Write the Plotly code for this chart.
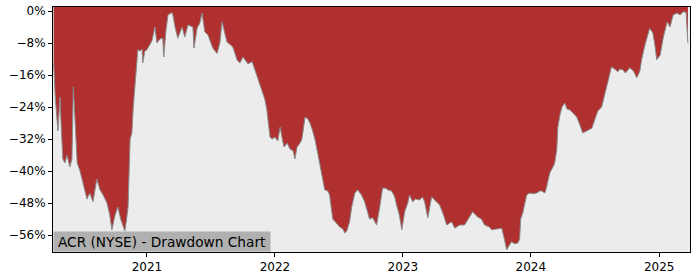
import plotly.graph_objects as go

dates = [
    "2020-04-10", "2020-04-14", "2020-04-22", "2020-04-28", "2020-05-01", "2020-05-06", "2020-05-12",
    "2020-05-18", "2020-05-26", "2020-06-01", "2020-06-05", "2020-06-10", "2020-06-16", "2020-06-24",
    "2020-07-05", "2020-07-14", "2020-07-22", "2020-07-31", "2020-08-11", "2020-08-20", "2020-08-29",
    "2020-09-09", "2020-09-17", "2020-09-23", "2020-10-02", "2020-10-10", "2020-10-18", "2020-10-30",
    "2020-11-04", "2020-11-08", "2020-11-14", "2020-11-19", "2020-11-23", "2020-11-28", "2020-12-02",
    "2020-12-06", "2020-12-12", "2020-12-18", "2020-12-20", "2020-12-26", "2021-01-01", "2021-01-10",
    "2021-01-15", "2021-01-24", "2021-01-29", "2021-02-07", "2021-02-15", "2021-02-18", "2021-02-24",
    "2021-03-02", "2021-03-13", "2021-03-16", "2021-03-22", "2021-03-30", "2021-04-11", "2021-04-19",
    "2021-04-28", "2021-05-12", "2021-05-15", "2021-05-24", "2021-06-01", "2021-06-07", "2021-06-15",
    "2021-06-24", "2021-06-30", "2021-07-08", "2021-07-20", "2021-07-28", "2021-08-03", "2021-08-09",
    "2021-08-17", "2021-09-03", "2021-09-15", "2021-09-23", "2021-10-02", "2021-10-16", "2021-10-28",
    "2021-11-05", "2021-11-14", "2021-11-25", "2021-12-03", "2021-12-09", "2021-12-18", "2021-12-24",
    "2022-01-01", "2022-01-09", "2022-01-16", "2022-01-22", "2022-01-27", "2022-02-05", "2022-02-13",
    "2022-02-22", "2022-02-27", "2022-03-05", "2022-03-14", "2022-03-19", "2022-03-28", "2022-04-05",
    "2022-04-11", "2022-04-17", "2022-04-25", "2022-05-03", "2022-05-09", "2022-05-17", "2022-05-23",
    "2022-06-01", "2022-06-06", "2022-06-15", "2022-06-26", "2022-07-05", "2022-07-14", "2022-07-19",
    "2022-07-25", "2022-08-02", "2022-08-08", "2022-08-17", "2022-08-25", "2022-09-05", "2022-09-14",
    "2022-09-22", "2022-09-28", "2022-10-07", "2022-10-18", "2022-10-27", "2022-11-04", "2022-11-13",
    "2022-11-19", "2022-11-30", "2022-12-09", "2022-12-14", "2022-12-22", "2022-12-29", "2023-01-06",
    "2023-01-15", "2023-01-20", "2023-01-29", "2023-02-06", "2023-02-18", "2023-02-26", "2023-03-04",
    "2023-03-13", "2023-03-24", "2023-04-04", "2023-04-16", "2023-04-27", "2023-05-06", "2023-05-20",
    "2023-05-29", "2023-06-12", "2023-06-26", "2023-07-10", "2023-07-19", "2023-08-02", "2023-08-13",
    "2023-08-22", "2023-09-05", "2023-09-11", "2023-09-25", "2023-10-10", "2023-10-18", "2023-10-24",
    "2023-11-01", "2023-11-07", "2023-11-16", "2023-11-25", "2023-11-30", "2023-12-03", "2023-12-09",
    "2023-12-14", "2023-12-20", "2023-12-29", "2024-01-07", "2024-01-18", "2024-01-26", "2024-02-01",
    "2024-02-10", "2024-02-15", "2024-02-24", "2024-03-04", "2024-03-09", "2024-03-15", "2024-03-18",
    "2024-03-24", "2024-03-30", "2024-04-07", "2024-04-13", "2024-04-21", "2024-04-30", "2024-05-11",
    "2024-05-20", "2024-05-28", "2024-06-08", "2024-06-23", "2024-07-02", "2024-07-10", "2024-07-21",
    "2024-07-30", "2024-08-04", "2024-08-13", "2024-08-18", "2024-08-27", "2024-09-05", "2024-09-11",
    "2024-09-19", "2024-09-27", "2024-10-09", "2024-10-20", "2024-10-29", "2024-11-07", "2024-11-12",
    "2024-11-20", "2024-11-26", "2024-12-05", "2024-12-14", "2024-12-19", "2024-12-25", "2025-01-04",
    "2025-01-13", "2025-01-24", "2025-02-01", "2025-02-10", "2025-02-21", "2025-03-02", "2025-03-10",
    "2025-03-19", "2025-03-24",
]

drawdown = [
    -13, -21, -30, -21.5, -28, -37, -38,
    -36, -39, -37, -19, -28, -38, -40,
    -44, -47, -45.5, -47.7, -42, -44.7, -46,
    -48, -51, -54.7, -51, -49, -52, -55,
    -52, -49, -32, -30.5, -24, -19, -14,
    -9.7, -10, -9.5, -13, -10, -9.7, -8.5,
    -7.5, -4, -8, -7, -6.8, -11.5, -5,
    -1, -0.4, -1, -4, -6.8, -4, -6.5,
    -3.5, -4, -9.3, -4.3, -3, -0.5, -5.2,
    -6, -7.5, -9.3, -10.6, -8, -2.7, -5,
    -7.7, -9, -12.2, -13, -11.5, -13.2, -12.7,
    -14.7, -17, -19.7, -22, -24.7, -31.5, -32,
    -31.5, -32.5, -29, -32, -34, -33, -34.5,
    -35, -37, -34, -33, -32, -26.5, -27,
    -28, -29.5, -32, -35.5, -38, -42, -44.7,
    -45, -46, -52, -53, -54, -54.5, -55.5,
    -55, -52.7, -49, -45.5, -44.7, -46, -47.7,
    -50, -52, -51.7, -53.5, -49, -44.3, -44.3,
    -44.7, -45, -46.5, -48.5, -51, -54.7, -50.2,
    -48, -46, -47.7, -47, -47.2, -46.5, -47.7,
    -51.7, -46.5, -47.5, -48.5, -51, -53.5, -52.7,
    -54.3, -53.5, -53.5, -51.5, -50.2, -51.5, -52,
    -53.5, -54, -54.7, -54.5, -54.3, -57.2, -59.7,
    -58.5, -57.7, -58.2, -58, -57, -52, -50.5,
    -48, -46, -45.5, -45.7, -45.5, -45, -45,
    -45.5, -44, -40.5, -39, -38, -34.7, -29,
    -26, -24, -23, -24.5, -24.7, -25.5, -26.5,
    -28.5, -30.5, -30, -29.3, -27, -25, -24,
    -21, -19, -16, -14, -14.5, -15.2, -14.5,
    -14.7, -15.5, -14.2, -15, -16.7, -15, -12.2,
    -9, -7.2, -4.3, -5.5, -8, -12.2, -11,
    -6.5, -2.7, -4, -1, -0.5, -1, -0.2,
    -0.3, -8,
]

y_ticks = [0, -8, -16, -24, -32, -40, -48, -56]
y_labels = ["0%", "\u22128%", "\u221216%", "\u221224%", "\u221232%", "\u221240%", "\u221248%", "\u221256%"]
x_ticks = ["2021-01-01", "2022-01-01", "2023-01-01", "2024-01-01", "2025-01-01"]
x_labels = ["2021", "2022", "2023", "2024", "2025"]
title_text = "ACR (NYSE) - Drawdown Chart"

RED = "#b03030"
BG = "#ececec"

fig = go.Figure()
fig.add_trace(go.Scatter(x=dates, y=[5] * len(dates), mode="lines",
                         line=dict(width=0), hoverinfo="skip", showlegend=False))
fig.add_trace(go.Scatter(x=dates, y=drawdown, mode="lines", fill="tonexty",
                         fillcolor=RED, line=dict(color="#8a8a8a", width=1),
                         showlegend=False))

fig.update_layout(
    width=700, height=280,
    margin=dict(l=53, r=10, t=7, b=28),
    paper_bgcolor="white", plot_bgcolor=BG,
    font=dict(family="DejaVu Sans", size=12, color="black"),
    showlegend=False,
)
fig.update_xaxes(
    type="date", range=["2020-04-08", "2025-03-30"],
    tickvals=x_ticks, ticktext=x_labels,
    ticks="outside", ticklen=4, tickcolor="black",
    showline=True, linecolor="black", linewidth=1, mirror=True,
    showgrid=False, zeroline=False, automargin=False,
    tickfont=dict(size=12),
)
fig.update_yaxes(
    range=[-60.25, 1], tickvals=y_ticks, ticktext=y_labels,
    ticks="outside", ticklen=4, tickcolor="black",
    showline=True, linecolor="black", linewidth=1, mirror=True,
    showgrid=False, zeroline=False, automargin=False,
    tickfont=dict(size=12),
)
fig.add_annotation(
    text=title_text, xref="paper", yref="paper", x=0, y=0,
    xanchor="left", yanchor="bottom", showarrow=False,
    bgcolor="#b0b0b0", borderpad=0, width=216, height=19, align="center",
    font=dict(family="DejaVu Sans", size=13.7, color="black"),
)

fig.write_html("out.html")
